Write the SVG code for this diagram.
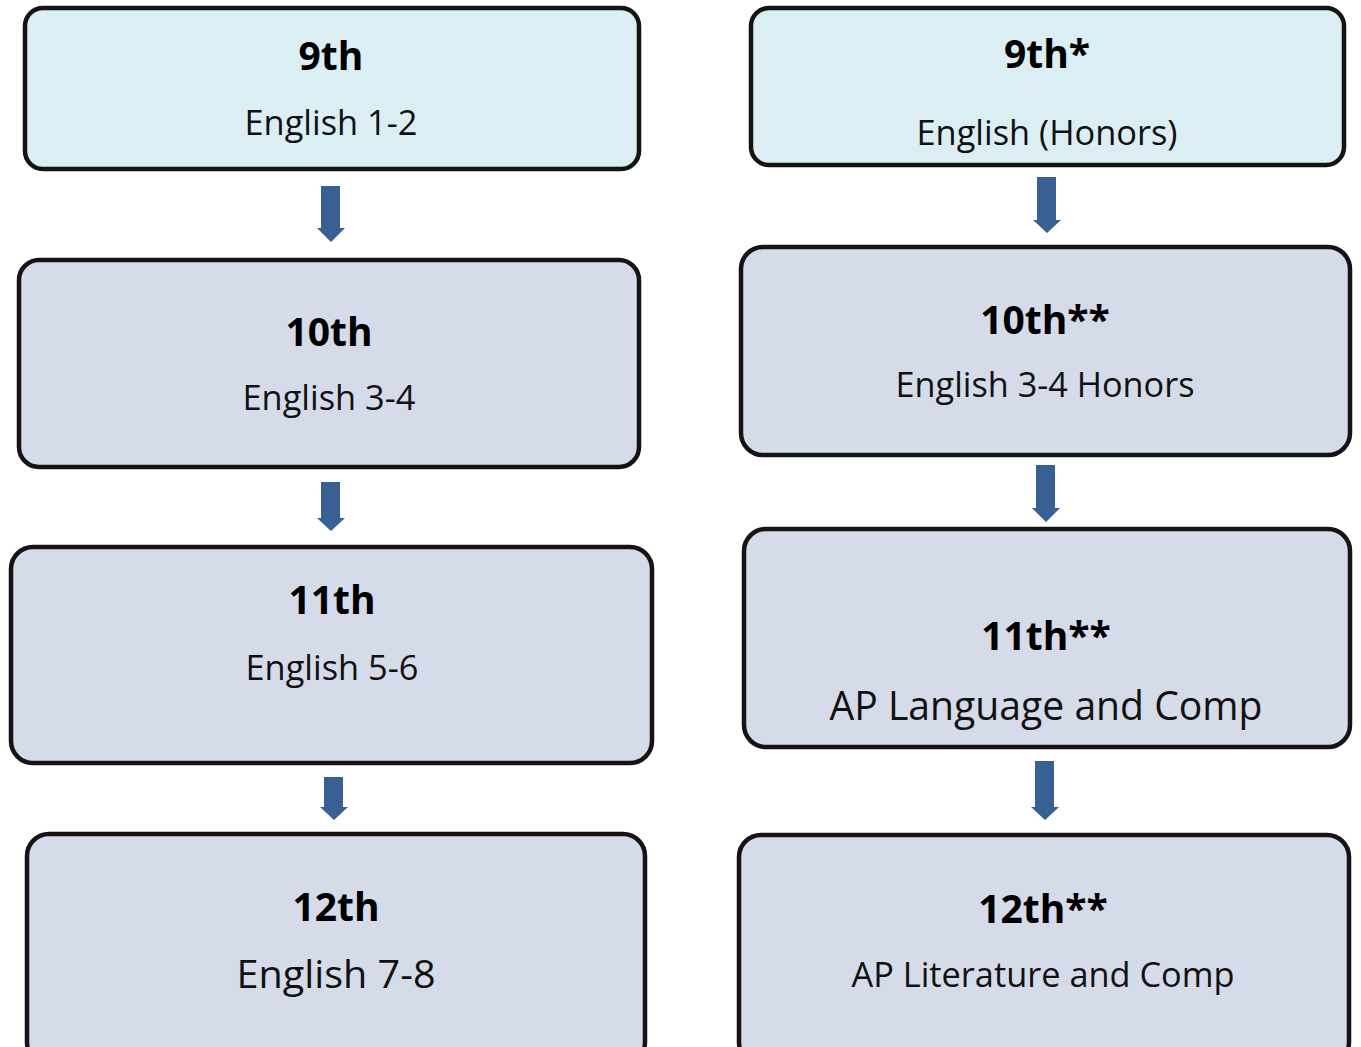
<svg xmlns="http://www.w3.org/2000/svg" width="1361" height="1047" viewBox="0 0 1361 1047">
<style>
.box{stroke:#141414;stroke-width:4.5}
.b1{fill:#DBEEF3}
.b2{fill:#D5DBE9}
.t{font-family:"Open Sans","Liberation Sans",sans-serif;font-weight:bold;font-size:39px;fill:#000;text-anchor:middle}
.s{font-family:"Open Sans","Liberation Sans",sans-serif;font-size:34px;fill:#111;text-anchor:middle}
.arr{fill:#386092}
</style>
<rect width="1361" height="1047" fill="#fff"/>
<g id="connectors">
<path class="arr" d="M321,186H340V228H345L331,242L317,228H321Z"/>
<path class="arr" d="M321,482H340V518H345L331,531L317,518H321Z"/>
<path class="arr" d="M324,777H343V807H348L334,820L320,807H324Z"/>
<path class="arr" d="M1037,177H1056V220H1061L1047,233L1033,220H1037Z"/>
<path class="arr" d="M1036,465H1055V508H1060L1046,522L1032,508H1036Z"/>
<path class="arr" d="M1035,761H1054V807H1059L1045,820L1031,807H1035Z"/>
</g>
<g id="n9">
<rect class="box b1" x="25" y="8" width="614" height="161" rx="18"/>
<text class="t" x="331" y="70">9th</text>
<text class="s" x="331" y="135" textLength="173" lengthAdjust="spacingAndGlyphs">English 1-2</text>
</g>
<g id="n10">
<rect class="box b2" x="19" y="260" width="620" height="207" rx="20"/>
<text class="t" x="329" y="346">10th</text>
<text class="s" x="329" y="410" textLength="173" lengthAdjust="spacingAndGlyphs">English 3-4</text>
</g>
<g id="n11">
<rect class="box b2" x="11" y="547" width="641" height="216" rx="22"/>
<text class="t" x="332" y="614">11th</text>
<text class="s" x="332" y="680" textLength="173" lengthAdjust="spacingAndGlyphs">English 5-6</text>
</g>
<g id="n12">
<rect class="box b2" x="27" y="834" width="618" height="230" rx="22"/>
<text class="t" x="336" y="921">12th</text>
<text class="s" x="336" y="988" style="font-size:38px" textLength="199" lengthAdjust="spacingAndGlyphs">English 7-8</text>
</g>
<g id="h9">
<rect class="box b1" x="751" y="8" width="593" height="157" rx="18"/>
<text class="t" x="1047" y="68">9th*</text>
<text class="s" x="1047" y="145" textLength="261" lengthAdjust="spacingAndGlyphs">English (Honors)</text>
</g>
<g id="h10">
<rect class="box b2" x="741" y="247" width="609" height="208" rx="22"/>
<text class="t" x="1045" y="334">10th**</text>
<text class="s" x="1045" y="397" textLength="299" lengthAdjust="spacingAndGlyphs">English 3-4 Honors</text>
</g>
<g id="h11">
<rect class="box b2" x="744" y="529" width="606" height="218" rx="22"/>
<text class="t" x="1046" y="650">11th**</text>
<text class="s" x="1046" y="720" style="font-size:40px" textLength="433" lengthAdjust="spacingAndGlyphs">AP Language and Comp</text>
</g>
<g id="h12">
<rect class="box b2" x="739" y="835" width="610" height="229" rx="22"/>
<text class="t" x="1043" y="923">12th**</text>
<text class="s" x="1043" y="987" textLength="383" lengthAdjust="spacingAndGlyphs">AP Literature and Comp</text>
</g>
</svg>
